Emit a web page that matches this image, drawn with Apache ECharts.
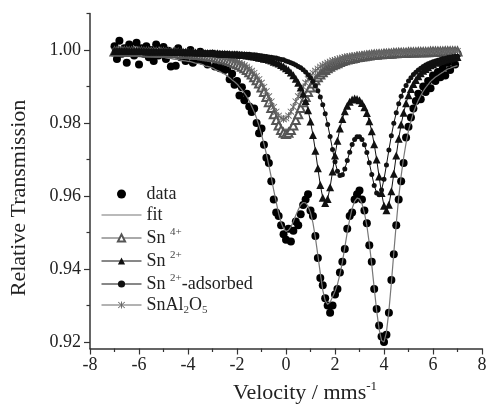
<!DOCTYPE html>
<html>
<head>
<meta charset="utf-8">
<script src="https://cdn.jsdelivr.net/npm/echarts@6/dist/echarts.min.js"></script>
<style>
  html, body { margin: 0; padding: 0; background: #fff; }
  #chart { width: 488px; height: 408px; }
</style>
</head>
<body>
<div id="chart"></div>
<script>
// velocity channels (mm/s)
const velocity = [-7,-6.9,-6.8,-6.7,-6.6,-6.5,-6.4,-6.3,-6.2,-6.1,-6,-5.9,-5.8,-5.7,-5.6,-5.5,-5.4,-5.3,-5.2,-5.1,
  -5,-4.9,-4.8,-4.7,-4.6,-4.5,-4.4,-4.3,-4.2,-4.1,-4,-3.9,-3.8,-3.7,-3.6,-3.5,-3.4,-3.3,-3.2,-3.1,
  -3,-2.9,-2.8,-2.7,-2.6,-2.5,-2.4,-2.3,-2.2,-2.1,-2,-1.9,-1.8,-1.7,-1.6,-1.5,-1.4,-1.3,-1.2,-1.1,
  -1,-0.9,-0.8,-0.7,-0.6,-0.5,-0.4,-0.3,-0.2,-0.1,0,0.1,0.2,0.3,0.4,0.5,0.6,0.7,0.8,0.9,
  1,1.1,1.2,1.3,1.4,1.5,1.6,1.7,1.8,1.9,2,2.1,2.2,2.3,2.4,2.5,2.6,2.7,2.8,2.9,
  3,3.1,3.2,3.3,3.4,3.5,3.6,3.7,3.8,3.9,4,4.1,4.2,4.3,4.4,4.5,4.6,4.7,4.8,4.9,
  5,5.1,5.2,5.3,5.4,5.5,5.6,5.7,5.8,5.9,6,6.1,6.2,6.3,6.4,6.5,6.6,6.7,6.8,6.9,7];

// measured spectrum
const measured = [1.0010,0.9975,1.0025,0.9990,1.0005,0.9965,1.0015,1.0000,0.9985,1.0020,
  0.9960,1.0005,0.9990,1.0010,0.9980,1.0000,0.9970,1.0015,0.9985,0.9995,
  1.0008,0.9975,0.9998,0.9955,0.9990,0.9957,1.0005,0.9980,0.9992,0.9970,
  0.9985,1.0000,0.9965,0.9988,0.9975,0.9995,0.9970,0.9985,0.9960,0.9978,
  0.9990,0.9955,0.9972,0.9950,0.9965,0.9945,0.9948,0.9920,0.9935,0.9905,
  0.9915,0.9875,0.9898,0.9862,0.9880,0.9845,0.9830,0.9840,0.9800,0.9772,
  0.9785,0.9740,0.9705,0.9690,0.9640,0.9590,0.9555,0.9545,0.9520,0.9495,
  0.9480,0.9510,0.9475,0.9505,0.9530,0.9520,0.9550,0.9575,0.9590,0.9605,
  0.9560,0.9545,0.9490,0.9430,0.9375,0.9355,0.9320,0.9300,0.9280,0.9300,
  0.9330,0.9345,0.9390,0.9420,0.9455,0.9510,0.9545,0.9555,0.9590,0.9605,
  0.9615,0.9590,0.9560,0.9525,0.9465,0.9420,0.9345,0.9290,0.9245,0.9215,
  0.9200,0.9220,0.9280,0.9370,0.9440,0.9520,0.9590,0.9640,0.9690,0.9760,
  0.9790,0.9815,0.9840,0.9860,0.9880,0.9865,0.9900,0.9885,0.9915,0.9895,
  0.9930,0.9915,0.9940,0.9925,0.9950,0.9930,0.9965,0.9945,0.9975,0.9960,0.9990];

// total fit
const fitCurve = [0.9988,0.9988,0.9988,0.9988,0.9987,0.9987,0.9985,0.9985,0.9985,0.9985,
  0.9985,0.9985,0.9984,0.9982,0.9982,0.9981,0.9981,0.9980,0.9980,0.9980,
  0.9980,0.9978,0.9977,0.9977,0.9975,0.9974,0.9974,0.9972,0.9971,0.9970,
  0.9969,0.9968,0.9966,0.9964,0.9963,0.9962,0.9960,0.9956,0.9955,0.9953,
  0.9951,0.9947,0.9944,0.9941,0.9937,0.9934,0.9929,0.9924,0.9918,0.9913,
  0.9907,0.9899,0.9891,0.9882,0.9872,0.9860,0.9846,0.9831,0.9813,0.9792,
  0.9769,0.9743,0.9715,0.9684,0.9651,0.9615,0.9583,0.9552,0.9527,0.9511,
  0.9503,0.9506,0.9515,0.9530,0.9547,0.9562,0.9576,0.9582,0.9581,0.9572,
  0.9554,0.9526,0.9486,0.9438,0.9388,0.9342,0.9313,0.9303,0.9309,0.9323,
  0.9339,0.9358,0.9385,0.9418,0.9459,0.9500,0.9536,0.9566,0.9585,0.9594,
  0.9592,0.9579,0.9554,0.9519,0.9470,0.9412,0.9348,0.9286,0.9235,0.9204,
  0.9200,0.9227,0.9285,0.9361,0.9444,0.9524,0.9596,0.9655,0.9704,0.9745,
  0.9779,0.9805,0.9828,0.9846,0.9862,0.9875,0.9887,0.9897,0.9905,0.9914,
  0.9920,0.9926,0.9930,0.9935,0.9939,0.9944,0.9948,0.9950,0.9953,0.9955,0.9957];

// Sn4+ subspectrum
const sn4 = [0.9996,0.9996,0.9996,0.9996,0.9996,0.9996,0.9995,0.9995,0.9995,0.9995,
  0.9995,0.9995,0.9994,0.9994,0.9994,0.9994,0.9994,0.9993,0.9993,0.9993,
  0.9993,0.9992,0.9992,0.9992,0.9992,0.9991,0.9991,0.9990,0.9990,0.9989,
  0.9989,0.9988,0.9988,0.9987,0.9987,0.9986,0.9985,0.9984,0.9983,0.9982,
  0.9981,0.9980,0.9978,0.9977,0.9975,0.9974,0.9972,0.9970,0.9967,0.9964,
  0.9961,0.9958,0.9954,0.9950,0.9945,0.9939,0.9933,0.9925,0.9917,0.9908,
  0.9897,0.9885,0.9871,0.9857,0.9841,0.9824,0.9808,0.9793,0.9781,0.9773,
  0.9770,0.9773,0.9781,0.9793,0.9808,0.9824,0.9841,0.9857,0.9871,0.9885,
  0.9897,0.9908,0.9917,0.9925,0.9933,0.9939,0.9945,0.9950,0.9954,0.9958,
  0.9961,0.9964,0.9967,0.9970,0.9972,0.9974,0.9975,0.9977,0.9978,0.9980,
  0.9981,0.9982,0.9983,0.9984,0.9985,0.9986,0.9987,0.9987,0.9988,0.9988,
  0.9989,0.9989,0.9990,0.9990,0.9991,0.9991,0.9992,0.9992,0.9992,0.9992,
  0.9993,0.9993,0.9993,0.9993,0.9994,0.9994,0.9994,0.9994,0.9994,0.9995,
  0.9995,0.9995,0.9995,0.9995,0.9995,0.9996,0.9996,0.9996,0.9996,0.9996,0.9996];

// Sn2+ subspectrum
const sn2 = [0.9997,0.9997,0.9997,0.9997,0.9997,0.9997,0.9997,0.9997,0.9997,0.9997,
  0.9997,0.9997,0.9997,0.9996,0.9996,0.9996,0.9996,0.9996,0.9996,0.9996,
  0.9996,0.9996,0.9995,0.9995,0.9995,0.9995,0.9995,0.9995,0.9994,0.9994,
  0.9994,0.9994,0.9994,0.9993,0.9993,0.9993,0.9993,0.9992,0.9992,0.9992,
  0.9992,0.9991,0.9991,0.9990,0.9990,0.9990,0.9989,0.9989,0.9988,0.9988,
  0.9988,0.9987,0.9986,0.9986,0.9985,0.9984,0.9983,0.9982,0.9981,0.9979,
  0.9978,0.9976,0.9975,0.9973,0.9971,0.9968,0.9966,0.9963,0.9959,0.9955,
  0.9950,0.9945,0.9938,0.9931,0.9921,0.9910,0.9897,0.9880,0.9860,0.9835,
  0.9804,0.9767,0.9724,0.9676,0.9630,0.9595,0.9581,0.9592,0.9624,0.9667,
  0.9711,0.9751,0.9785,0.9811,0.9832,0.9847,0.9858,0.9864,0.9867,0.9866,
  0.9862,0.9855,0.9843,0.9827,0.9805,0.9777,0.9742,0.9700,0.9653,0.9608,
  0.9573,0.9561,0.9576,0.9613,0.9661,0.9711,0.9757,0.9796,0.9828,0.9854,
  0.9876,0.9893,0.9907,0.9918,0.9928,0.9936,0.9943,0.9948,0.9953,0.9958,
  0.9961,0.9965,0.9967,0.9970,0.9972,0.9974,0.9976,0.9977,0.9979,0.9980,0.9981];

// Sn2+-adsorbed subspectrum
const sn2ads = [0.9998,0.9998,0.9998,0.9998,0.9998,0.9998,0.9997,0.9997,0.9997,0.9997,
  0.9997,0.9997,0.9997,0.9997,0.9997,0.9996,0.9996,0.9996,0.9996,0.9996,
  0.9996,0.9996,0.9996,0.9996,0.9995,0.9995,0.9995,0.9995,0.9995,0.9995,
  0.9995,0.9995,0.9994,0.9994,0.9994,0.9994,0.9994,0.9993,0.9993,0.9993,
  0.9993,0.9992,0.9992,0.9992,0.9991,0.9991,0.9991,0.9990,0.9990,0.9990,
  0.9990,0.9989,0.9989,0.9988,0.9988,0.9988,0.9987,0.9987,0.9986,0.9985,
  0.9984,0.9983,0.9982,0.9981,0.9980,0.9979,0.9978,0.9976,0.9974,0.9973,
  0.9970,0.9968,0.9965,0.9962,0.9959,0.9955,0.9951,0.9946,0.9940,0.9932,
  0.9924,0.9914,0.9902,0.9888,0.9871,0.9850,0.9825,0.9796,0.9763,0.9727,
  0.9694,0.9668,0.9656,0.9658,0.9674,0.9697,0.9720,0.9741,0.9755,0.9762,
  0.9762,0.9755,0.9740,0.9719,0.9691,0.9659,0.9629,0.9608,0.9603,0.9616,
  0.9646,0.9685,0.9726,0.9765,0.9799,0.9828,0.9853,0.9873,0.9889,0.9903,
  0.9915,0.9924,0.9933,0.9939,0.9945,0.9950,0.9955,0.9959,0.9962,0.9965,
  0.9968,0.9970,0.9972,0.9974,0.9976,0.9977,0.9979,0.9980,0.9981,0.9982,0.9983];

// SnAl2O5 subspectrum
const snal2o5 = [0.9997,0.9997,0.9997,0.9997,0.9996,0.9996,0.9996,0.9996,0.9996,0.9996,
  0.9996,0.9996,0.9996,0.9995,0.9995,0.9995,0.9995,0.9995,0.9995,0.9995,
  0.9995,0.9994,0.9994,0.9994,0.9993,0.9993,0.9993,0.9992,0.9992,0.9992,
  0.9991,0.9991,0.9990,0.9990,0.9989,0.9989,0.9988,0.9987,0.9987,0.9986,
  0.9985,0.9984,0.9983,0.9982,0.9981,0.9979,0.9977,0.9975,0.9973,0.9971,
  0.9968,0.9965,0.9962,0.9958,0.9954,0.9949,0.9943,0.9937,0.9929,0.9920,
  0.9910,0.9899,0.9887,0.9873,0.9859,0.9844,0.9831,0.9820,0.9813,0.9810,
  0.9813,0.9820,0.9831,0.9844,0.9859,0.9873,0.9887,0.9899,0.9910,0.9920,
  0.9929,0.9937,0.9943,0.9949,0.9954,0.9958,0.9962,0.9965,0.9968,0.9971,
  0.9973,0.9975,0.9977,0.9979,0.9981,0.9982,0.9983,0.9984,0.9985,0.9986,
  0.9987,0.9987,0.9988,0.9989,0.9989,0.9990,0.9990,0.9991,0.9991,0.9992,
  0.9992,0.9992,0.9993,0.9993,0.9993,0.9994,0.9994,0.9994,0.9995,0.9995,
  0.9995,0.9995,0.9995,0.9995,0.9995,0.9995,0.9995,0.9996,0.9996,0.9996,
  0.9996,0.9996,0.9996,0.9996,0.9996,0.9997,0.9997,0.9997,0.9997,0.9997,0.9997];

const yMajorTicks = [0.92, 0.94, 0.96, 0.98, 1.00];
const yMinorTicks = [0.93, 0.95, 0.97, 0.99, 1.01];

const serif = "'Liberation Serif', 'DejaVu Serif', serif";
const starPath = 'path://M4.4,0H5.6V10H4.4Z M0.4,1.2L1.2,0.4L9.6,8.8L8.8,9.6Z M8.8,0.4L9.6,1.2L1.2,9.6L0.4,8.8Z';

const pairs = arr => velocity.map((v, i) => [v, arr[i]]);

const legendText = {
  'data': '{t|data}',
  'fit': '{t|fit}',
  'Sn4+': '{t|Sn }{sup|4+}',
  'Sn2+': '{t|Sn }{sup|2+}',
  'Sn2+-adsorbed': '{t|Sn }{sup|2+}{t|-adsorbed}',
  'SnAl2O5': '{t|SnAl}{sub|2}{t|O}{sub|5}'
};

const chart = echarts.init(document.getElementById('chart'));

chart.setOption({
  animation: false,
  backgroundColor: '#fff',
  grid: { left: 90, right: 6, top: 13.5, bottom: 59.5, outerBoundsMode: 'none' },
  legend: {
    orient: 'vertical',
    left: 96,
    top: 180,
    itemWidth: 40,
    itemHeight: 9,
    itemGap: 3,
    lineStyle: { width: 1 },
    data: ['data', { name: 'fit', icon: 'path://M0,0H40V1H0Z', itemStyle: { color: '#777' } }, 'Sn4+', 'Sn2+', 'Sn2+-adsorbed', 'SnAl2O5'],
    formatter: name => legendText[name],
    textStyle: {
      rich: {
        t: { fontFamily: serif, fontSize: 18, color: '#222', lineHeight: 22 },
        sup: { fontFamily: serif, fontSize: 11, color: '#444', lineHeight: 12, verticalAlign: 'top' },
        sub: { fontFamily: serif, fontSize: 11, color: '#444', lineHeight: 12, verticalAlign: 'bottom' }
      }
    }
  },
  xAxis: {
    type: 'value',
    min: -8,
    max: 8,
    interval: 2,
    name: '{t|Velocity / mms}{sup|-1}',
    nameLocation: 'middle',
    nameGap: 32,
    nameTextStyle: {
      padding: [0, 0, 0, 38],
      rich: {
        t: { fontFamily: serif, fontSize: 22, color: '#222', lineHeight: 26 },
        sup: { fontFamily: serif, fontSize: 13, color: '#222', lineHeight: 14, verticalAlign: 'top' }
      }
    },
    axisLine: { onZero: false, lineStyle: { color: '#333', width: 1.5 } },
    axisTick: { inside: false, length: 6, lineStyle: { color: '#333', width: 1.2 } },
    minorTick: { show: true, splitNumber: 2, length: 3.5, lineStyle: { color: '#333', width: 1.2 } },
    axisLabel: { fontFamily: serif, fontSize: 18, color: '#222', margin: 8 },
    splitLine: { show: false }
  },
  yAxis: [{
    type: 'value',
    min: 0.9182,
    max: 1.01,
    name: 'Relative Transmission',
    nameLocation: 'middle',
    nameGap: 60,
    nameTextStyle: { fontFamily: serif, fontSize: 22, color: '#222', padding: [0, 34, 0, 0] },
    axisLine: { show: true, onZero: false, lineStyle: { color: '#333', width: 1.5 } },
    axisTick: { show: true, length: 6, customValues: yMajorTicks, lineStyle: { color: '#333', width: 1.2 } },
    axisLabel: {
      fontFamily: serif, fontSize: 18, color: '#222', margin: 9,
      customValues: yMajorTicks,
      formatter: v => v.toFixed(2)
    },
    splitLine: { show: false }
  }, {
    type: 'value',
    min: 0.9182,
    max: 1.01,
    position: 'left',
    axisLine: { show: false, onZero: false },
    axisTick: { show: true, length: 3.5, customValues: yMinorTicks, lineStyle: { color: '#333', width: 1.2 } },
    axisLabel: { show: false, customValues: yMinorTicks },
    splitLine: { show: false }
  }],
  series: [
    {
      name: 'Sn4+', type: 'line', data: pairs(sn4),
      symbol: 'emptyTriangle', symbolSize: 8,
      itemStyle: { color: '#555' },
      lineStyle: { color: '#555', width: 1 }
    },
    {
      name: 'SnAl2O5', type: 'line', data: pairs(snal2o5),
      symbol: starPath, symbolSize: 7,
      itemStyle: { color: '#666' },
      lineStyle: { color: '#666', width: 1 }
    },
    {
      name: 'Sn2+', type: 'line', data: pairs(sn2),
      symbol: 'triangle', symbolSize: 8,
      itemStyle: { color: '#111' },
      lineStyle: { color: '#111', width: 1 }
    },
    {
      name: 'Sn2+-adsorbed', type: 'line', data: pairs(sn2ads),
      symbol: 'circle', symbolSize: 5,
      itemStyle: { color: '#111' },
      lineStyle: { color: '#111', width: 1 }
    },
    {
      name: 'data', type: 'scatter', data: pairs(measured),
      symbol: 'circle', symbolSize: 8,
      itemStyle: { color: '#000', opacity: 1 }
    },
    {
      name: 'fit', type: 'line', data: pairs(fitCurve),
      symbol: 'none',
      itemStyle: { color: '#777' },
      lineStyle: { color: '#777', width: 1.2 }
    }
  ]
});
</script>
</body>
</html>
